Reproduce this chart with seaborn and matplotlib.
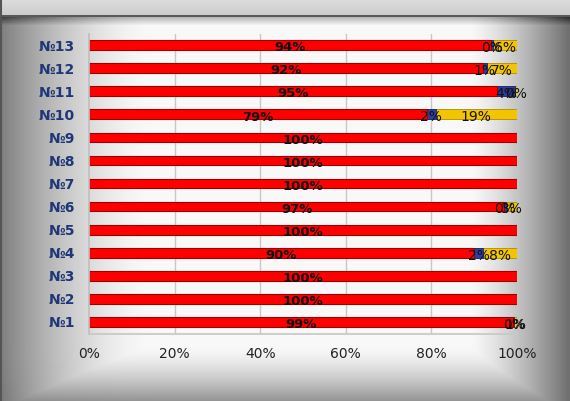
import numpy as np
import pandas as pd
import matplotlib
matplotlib.use("Agg")
import matplotlib.pyplot as plt
import seaborn as sns

# ---- data ----
categories = ["№13", "№12", "№11", "№10", "№9", "№8", "№7", "№6", "№5", "№4", "№3", "№2", "№1"]
red_vals = [94, 92, 95.4, 79, 100, 100, 100, 97, 100, 90, 100, 100, 99]
blue_vals = [0.4, 1, 4.2, 2, np.nan, np.nan, np.nan, 0.4, np.nan, 2, np.nan, np.nan, 0.4]
yellow_vals = [5.6, 7, 0.4, 19, np.nan, np.nan, np.nan, 2.6, np.nan, 8, np.nan, np.nan, 0.6]
x_ticks = [0, 20, 40, 60, 80, 100]
x_tick_labels = ["0%", "20%", "40%", "60%", "80%", "100%"]

sns.set_theme(style="white")
plt.rcParams['font.family'] = ['DejaVu Sans']

df = pd.DataFrame({"cat": categories, "red": red_vals,
                   "blue": blue_vals, "yellow": yellow_vals})
tot = df[["red", "blue", "yellow"]].fillna(0).sum(axis=1)
df["r_pct"] = df["red"] / tot * 100
df["b_pct"] = df["blue"].fillna(0) / tot * 100
df["y_pct"] = df["yellow"].fillna(0) / tot * 100
df["cum_rb"] = df["r_pct"] + df["b_pct"]
df["cum_all"] = df["cum_rb"] + df["y_pct"]

W, H = 570, 401
fig = plt.figure(figsize=(W / 100, H / 100), dpi=100)

# ---- background gradient ----
bg = fig.add_axes([0, 0, 1, 1])
xs = np.arange(W)[None, :]
ys = np.arange(H)[:, None]
b = np.ones((H, W)) * 0.975
left = np.clip((150 - xs) / 150, 0, 1) ** 1.6 * 0.48
right = np.clip((xs - 470) / 100, 0, 1) ** 1.3 * 0.55
bottom = np.clip((ys - 345) / 56, 0, 1) ** 1.5 * 0.4
b = b - np.maximum(np.maximum(left, right), bottom) - 0.15 * left * bottom
top = (ys < 16)
b = np.where(top, 0.86 - 0.06 * (ys / 16) + 0 * xs, b)
b = np.where((ys >= 15) & (ys < 17), 0.35 + 0 * xs, b)
b = np.where((ys >= 17) & (ys < 25), b - 0.25 * (25 - ys) / 8, b)
img = np.clip(np.dstack([b, b, b]), 0, 1)
bg.imshow(img, aspect="auto", extent=[0, W, H, 0])
bg.plot([1, 1], [0, H], color="#555555", lw=1.5)
bg.set_xlim(0, W); bg.set_ylim(H, 0)
bg.axis("off")

# ---- chart ----
ax = fig.add_axes([89 / W, 1 - 333.5 / H, (517 - 89) / W, (333.5 - 33.5) / H])
ax.patch.set_alpha(0)

bw = 0.42
sns.barplot(data=df, y="cat", x="cum_all", order=categories, color="#F2C500",
            orient="h", width=bw, ax=ax, saturation=1, edgecolor="#B08A00", linewidth=0.6)
sns.barplot(data=df, y="cat", x="cum_rb", order=categories, color="#2B3D9E",
            orient="h", width=bw, ax=ax, saturation=1, edgecolor="#1A2570", linewidth=0.6)
sns.barplot(data=df, y="cat", x="r_pct", order=categories, color="#FF0000",
            orient="h", width=bw, ax=ax, saturation=1, edgecolor="#A00000", linewidth=0.8)

for i, row in df.iterrows():
    ax.text(row["r_pct"] / 2, i + 0.12, f"{row['red']:.0f}%", ha="center", va="center",
            fontsize=9.5, fontweight="bold", color="#111111")
    if not np.isnan(row["blue"]):
        ax.text(row["r_pct"] + row["b_pct"] / 2, i + 0.12, f"{row['blue']:.0f}%",
                ha="center", va="center", fontsize=10, color="#111111")
    if not np.isnan(row["yellow"]):
        ax.text(row["cum_rb"] + row["y_pct"] / 2, i + 0.12, f"{row['yellow']:.0f}%",
                ha="center", va="center", fontsize=10, color="#111111")

ax.set_xlim(0, 100)
ax.set_ylim(len(categories) - 0.5, -0.5)
ax.set_xticks(x_ticks)
ax.set_xticklabels(x_tick_labels, fontsize=10, color="#222222")
ax.set_xlabel(""); ax.set_ylabel("")
ax.tick_params(axis="x", length=0, pad=10)
ax.tick_params(axis="y", length=0, pad=10)
for lbl in ax.get_yticklabels():
    lbl.set_fontweight("bold"); lbl.set_color("#1F3677"); lbl.set_fontsize(10)
for xv in x_ticks[1:]:
    ax.axvline(xv, color="#C8C8C8", lw=1, zorder=0)
for s in ["top", "right"]:
    ax.spines[s].set_visible(False)
ax.spines["left"].set_color("#C0C0C0")
ax.spines["bottom"].set_color("#C8C8C8")

fig.savefig("out.png", dpi=100)
